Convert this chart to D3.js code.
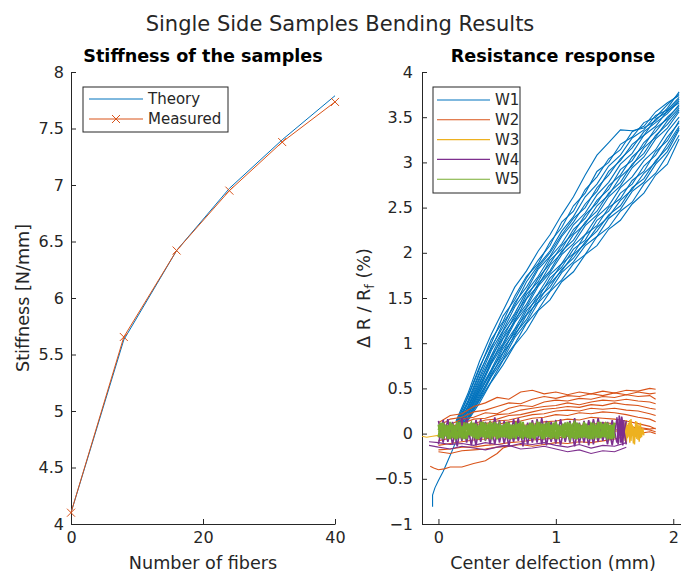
<!DOCTYPE html>
<html lang="en">
<head>
    <meta charset="UTF-8">
    <title>Single Side Samples Bending Results</title>
    <style>
        body { margin: 0; background: #fff; }
        svg { display: block; font-family: "DejaVu Sans", sans-serif; }
    </style>
</head>
<body>
    <div class="box"></div>
    <script src="https://d3js.org/d3.v7.min.js"></script>
    <script>
        const width = 681;
        const height = 577;
        const ink = '#262626';
        const colors = ['#0072BD', '#D95319', '#EDB120', '#7E2F8E', '#77AC30'];

        // ---- left plot: stiffness ----
        const fibers = [0, 8, 16, 24, 32, 40];
        const theory = [4.1, 5.63, 6.42, 6.97, 7.40, 7.79];
        const measured = [4.1, 5.655, 6.42, 6.95, 7.38, 7.735];

        // ---- right plot: resistance response ----
        const w1X = [0.15, 0.25, 0.35, 0.45, 0.55, 0.65, 0.75, 0.85, 0.95, 1.05, 1.15, 1.25, 1.35, 1.45, 1.55, 1.65, 1.75, 1.85, 1.95, 2.05];
        const w1Runs = [
            [0.14, 0.44, 0.80, 1.10, 1.36, 1.62, 1.80, 2.02, 2.20, 2.42, 2.62, 2.86, 3.08, 3.22, 3.36, 3.35, 3.38, 3.46, 3.60, 3.78],
            [0.12, 0.40, 0.72, 1.04, 1.24, 1.52, 1.74, 1.88, 2.12, 2.28, 2.52, 2.66, 2.90, 3.00, 3.20, 3.28, 3.44, 3.50, 3.64, 3.76],
            [0.11, 0.41, 0.74, 1.00, 1.30, 1.48, 1.72, 1.92, 2.08, 2.34, 2.46, 2.70, 2.84, 3.04, 3.14, 3.34, 3.40, 3.56, 3.66, 3.74],
            [0.10, 0.36, 0.68, 0.94, 1.22, 1.42, 1.68, 1.86, 2.02, 2.24, 2.40, 2.62, 2.76, 2.96, 3.08, 3.27, 3.36, 3.52, 3.58, 3.72],
            [0.09, 0.34, 0.66, 0.96, 1.18, 1.45, 1.62, 1.84, 2.00, 2.20, 2.38, 2.50, 2.72, 2.86, 3.04, 3.16, 3.34, 3.44, 3.54, 3.68],
            [0.08, 0.33, 0.62, 0.92, 1.14, 1.40, 1.58, 1.82, 1.96, 2.18, 2.34, 2.54, 2.68, 2.90, 3.02, 3.20, 3.30, 3.48, 3.56, 3.70],
            [0.07, 0.30, 0.60, 0.86, 1.13, 1.33, 1.57, 1.74, 1.95, 2.10, 2.31, 2.44, 2.64, 2.78, 2.98, 3.10, 3.30, 3.40, 3.57, 3.66],
            [0.06, 0.29, 0.57, 0.82, 1.10, 1.28, 1.54, 1.68, 1.92, 2.04, 2.26, 2.38, 2.58, 2.70, 2.92, 3.02, 3.22, 3.34, 3.50, 3.62],
            [0.06, 0.28, 0.55, 0.85, 1.06, 1.31, 1.50, 1.72, 1.88, 2.08, 2.22, 2.42, 2.55, 2.74, 2.86, 3.06, 3.18, 3.38, 3.48, 3.64],
            [0.05, 0.26, 0.53, 0.78, 1.05, 1.24, 1.49, 1.64, 1.86, 2.00, 2.20, 2.32, 2.52, 2.64, 2.84, 2.96, 3.16, 3.28, 3.46, 3.60],
            [0.05, 0.25, 0.51, 0.80, 1.00, 1.26, 1.43, 1.66, 1.80, 2.02, 2.14, 2.34, 2.46, 2.66, 2.78, 2.98, 3.10, 3.30, 3.42, 3.58],
            [0.04, 0.24, 0.49, 0.77, 0.98, 1.23, 1.40, 1.63, 1.78, 1.98, 2.10, 2.30, 2.42, 2.62, 2.74, 2.94, 3.06, 3.26, 3.38, 3.56],
            [0.04, 0.22, 0.48, 0.71, 0.97, 1.16, 1.39, 1.55, 1.76, 1.88, 2.08, 2.20, 2.40, 2.52, 2.72, 2.84, 3.02, 3.14, 3.34, 3.50],
            [0.03, 0.21, 0.46, 0.68, 0.94, 1.12, 1.36, 1.50, 1.72, 1.84, 2.04, 2.14, 2.36, 2.46, 2.66, 2.76, 2.96, 3.08, 3.28, 3.44],
            [0.03, 0.20, 0.44, 0.70, 0.90, 1.15, 1.32, 1.54, 1.68, 1.88, 1.99, 2.20, 2.30, 2.50, 2.60, 2.80, 2.90, 3.12, 3.24, 3.46],
            [0.02, 0.18, 0.42, 0.64, 0.89, 1.08, 1.31, 1.46, 1.66, 1.80, 1.98, 2.10, 2.28, 2.40, 2.58, 2.70, 2.88, 3.00, 3.20, 3.40],
            [0.02, 0.17, 0.40, 0.66, 0.85, 1.10, 1.26, 1.50, 1.62, 1.82, 1.94, 2.12, 2.24, 2.42, 2.52, 2.72, 2.82, 3.02, 3.16, 3.38],
            [0.02, 0.16, 0.38, 0.63, 0.82, 1.06, 1.23, 1.45, 1.58, 1.78, 1.90, 2.08, 2.18, 2.38, 2.48, 2.68, 2.78, 2.98, 3.12, 3.36],
            [0.01, 0.15, 0.37, 0.58, 0.81, 0.99, 1.22, 1.37, 1.57, 1.70, 1.88, 1.98, 2.18, 2.28, 2.46, 2.56, 2.76, 2.88, 3.08, 3.30],
            [0.01, 0.14, 0.34, 0.57, 0.76, 0.98, 1.14, 1.36, 1.48, 1.68, 1.79, 1.98, 2.08, 2.26, 2.36, 2.54, 2.66, 2.86, 2.98, 3.26]
        ];
        const w1TailX = [-0.05, -0.05, -0.03, 0.0, 0.04, 0.08, 0.12, 0.16, 0.19];
        const w1TailY = [-0.81, -0.68, -0.60, -0.52, -0.42, -0.30, -0.18, -0.05, 0.08];

        const w2X = [0, 0.1, 0.2, 0.3, 0.4, 0.5, 0.6, 0.7, 0.8, 0.9, 1.0, 1.1, 1.2, 1.3, 1.4, 1.5, 1.6, 1.7, 1.8, 1.85];
        const w2Runs = [
            [0.12, 0.20, 0.22, 0.30, 0.34, 0.40, 0.38, 0.46, 0.48, 0.44, 0.46, 0.43, 0.46, 0.44, 0.47, 0.45, 0.48, 0.47, 0.50, 0.49],
            [0.08, 0.16, 0.18, 0.24, 0.26, 0.30, 0.34, 0.33, 0.38, 0.41, 0.39, 0.42, 0.41, 0.44, 0.42, 0.45, 0.43, 0.46, 0.44, 0.45],
            [0.06, 0.10, 0.16, 0.18, 0.23, 0.22, 0.28, 0.31, 0.30, 0.35, 0.37, 0.36, 0.39, 0.38, 0.41, 0.40, 0.43, 0.41, 0.42, 0.38],
            [0.04, 0.08, 0.11, 0.16, 0.17, 0.21, 0.22, 0.26, 0.28, 0.30, 0.31, 0.34, 0.32, 0.35, 0.37, 0.36, 0.38, 0.36, 0.35, 0.33],
            [0.02, 0.05, 0.09, 0.11, 0.15, 0.16, 0.20, 0.21, 0.24, 0.27, 0.28, 0.30, 0.29, 0.32, 0.31, 0.34, 0.32, 0.31, 0.28, 0.27],
            [0.00, 0.03, 0.06, 0.10, 0.11, 0.14, 0.15, 0.18, 0.21, 0.22, 0.25, 0.26, 0.25, 0.28, 0.27, 0.28, 0.26, 0.25, 0.22, 0.20],
            [-0.04, 0.00, 0.04, 0.05, 0.09, 0.10, 0.13, 0.14, 0.17, 0.18, 0.21, 0.20, 0.23, 0.22, 0.24, 0.23, 0.21, 0.18, 0.16, 0.13],
            [-0.08, -0.05, -0.02, 0.01, 0.02, 0.05, 0.06, 0.09, 0.10, 0.13, 0.14, 0.16, 0.15, 0.18, 0.17, 0.16, 0.14, 0.11, 0.08, 0.05],
            [-0.13, -0.11, -0.09, -0.07, -0.06, -0.03, -0.02, 0.01, 0.02, 0.05, 0.06, 0.08, 0.09, 0.10, 0.12, 0.11, 0.09, 0.06, 0.04, 0.02],
            [-0.18, -0.17, -0.15, -0.15, -0.13, -0.12, -0.10, -0.09, -0.07, -0.06, -0.05, -0.03, -0.02, 0.00, 0.02, 0.04, 0.05, 0.07, 0.05, 0.06],
            [-0.20, -0.22, -0.19, -0.18, -0.17, -0.15, -0.14, -0.12, -0.14, -0.12, -0.10, -0.11, -0.09, -0.10, -0.08, -0.06, -0.03, 0.00, 0.02, 0.00]
        ];
        const w2LowX = [-0.07, -0.04, 0.0, 0.05, 0.1, 0.2, 0.3, 0.4, 0.5, 0.55, 0.6];
        const w2LowY = [-0.36, -0.38, -0.40, -0.39, -0.37, -0.37, -0.33, -0.30, -0.22, -0.16, -0.14];

        const w3X = [-0.14, -0.1, -0.05, 0.0, 0.3, 0.6, 0.9, 1.2, 1.5, 1.58];
        const w3Y = [-0.03, -0.04, -0.03, -0.02, 0.0, 0.02, 0.01, 0.03, 0.02, 0.05];
        const w3EndX = [1.58, 1.59, 1.6, 1.61, 1.62, 1.63, 1.64, 1.65, 1.66, 1.67, 1.68, 1.69, 1.7, 1.71, 1.72, 1.73, 1.74, 1.75];
        const w3EndRuns = [
            [0.10, -0.08, 0.15, -0.05, 0.12, -0.10, 0.16, -0.02, 0.08, -0.12, 0.14, -0.06, 0.10, -0.09, 0.12, -0.04, 0.06, -0.02],
            [-0.05, 0.12, -0.10, 0.08, -0.03, 0.15, -0.08, 0.10, -0.11, 0.06, -0.04, 0.13, -0.07, 0.09, -0.05, 0.05, 0.00, 0.02]
        ];

        const w4X = [0, 0.04, 0.08, 0.12, 0.16, 0.2, 0.24, 0.28, 0.32, 0.36, 0.4, 0.44, 0.48, 0.52, 0.56, 0.6, 0.64, 0.68, 0.72, 0.76, 0.8,
            0.84, 0.88, 0.92, 0.96, 1.0, 1.04, 1.08, 1.12, 1.16, 1.2, 1.24, 1.28, 1.32, 1.36, 1.4, 1.44, 1.48, 1.52, 1.56, 1.6];
        const w4Runs = [
            [0.14, -0.10, 0.16, -0.12, 0.12, -0.08, 0.17, -0.13, 0.15, -0.09, 0.13, -0.12, 0.18, -0.10, 0.14, -0.14, 0.16, -0.08, 0.12, -0.12, 0.15,
                -0.10, 0.17, -0.13, 0.13, -0.11, 0.16, -0.09, 0.14, -0.14, 0.12, -0.10, 0.15, -0.12, 0.17, -0.08, 0.13, -0.13, 0.16, -0.10, 0.14],
            [-0.12, 0.15, -0.09, 0.13, -0.14, 0.17, -0.10, 0.12, -0.13, 0.16, -0.08, 0.14, -0.12, 0.15, -0.11, 0.13, -0.09, 0.17, -0.14, 0.12, -0.10,
                0.16, -0.12, 0.14, -0.09, 0.15, -0.13, 0.12, -0.10, 0.17, -0.11, 0.14, -0.13, 0.16, -0.09, 0.13, -0.12, 0.15, -0.10, 0.18, -0.12]
        ];
        const w4LowX = [-0.08, 0.0, 0.1, 0.2, 0.3, 0.4, 0.5, 0.6, 0.7, 0.8, 0.9, 1.0, 1.1, 1.2, 1.3, 1.4, 1.5, 1.6];
        const w4LowRuns = [
            [-0.13, -0.15, -0.17, -0.14, -0.16, -0.18, -0.15, -0.13, -0.17, -0.16, -0.14, -0.17, -0.20, -0.18, -0.22, -0.19, -0.20, -0.15],
            [-0.09, -0.10, -0.12, -0.11, -0.13, -0.10, -0.12, -0.14, -0.11, -0.12, -0.10, -0.13, -0.15, -0.12, -0.16, -0.13, -0.14, -0.10]
        ];
        const w4EdgeX = [1.52, 1.53, 1.54, 1.55, 1.56, 1.57, 1.58, 1.57, 1.56];
        const w4EdgeY = [0.18, -0.12, 0.20, -0.10, 0.17, -0.13, 0.15, -0.10, 0.19];

        const w5X = [0, 0.02, 0.04, 0.06, 0.08, 0.1, 0.12, 0.14, 0.16, 0.18, 0.2, 0.22, 0.24, 0.26, 0.28, 0.3, 0.32, 0.34, 0.36, 0.38,
            0.4, 0.42, 0.44, 0.46, 0.48, 0.5, 0.52, 0.54, 0.56, 0.58, 0.6, 0.62, 0.64, 0.66, 0.68, 0.7, 0.72, 0.74, 0.76, 0.78,
            0.8, 0.82, 0.84, 0.86, 0.88, 0.9, 0.92, 0.94, 0.96, 0.98, 1.0, 1.02, 1.04, 1.06, 1.08, 1.1, 1.12, 1.14, 1.16, 1.18,
            1.2, 1.22, 1.24, 1.26, 1.28, 1.3, 1.32, 1.34, 1.36, 1.38, 1.4, 1.42, 1.44, 1.46, 1.48, 1.5];
        const w5Runs = [
            [0.10, -0.05, 0.12, -0.03, 0.09, -0.06, 0.11, -0.04, 0.13, -0.05, 0.08, -0.06, 0.12, -0.02, 0.10, -0.05, 0.11, -0.06, 0.09, -0.04,
                0.12, -0.05, 0.10, -0.03, 0.13, -0.06, 0.09, -0.04, 0.11, -0.05, 0.12, -0.06, 0.08, -0.03, 0.11, -0.05, 0.13, -0.04, 0.10, -0.06,
                0.12, -0.05, 0.09, -0.03, 0.11, -0.06, 0.12, -0.04, 0.10, -0.05, 0.13, -0.06, 0.09, -0.04, 0.11, -0.03, 0.12, -0.05, 0.10, -0.06,
                0.11, -0.04, 0.13, -0.05, 0.09, -0.06, 0.12, -0.03, 0.10, -0.05, 0.11, -0.04, 0.12, -0.06, 0.10, -0.05],
            [-0.04, 0.11, -0.06, 0.10, -0.03, 0.12, -0.05, 0.09, -0.06, 0.13, -0.04, 0.10, -0.05, 0.11, -0.03, 0.12, -0.06, 0.09, -0.04, 0.13,
                -0.05, 0.10, -0.06, 0.12, -0.03, 0.11, -0.05, 0.09, -0.04, 0.12, -0.06, 0.10, -0.05, 0.13, -0.03, 0.11, -0.06, 0.09, -0.04, 0.12,
                -0.05, 0.10, -0.03, 0.13, -0.06, 0.11, -0.04, 0.09, -0.05, 0.12, -0.06, 0.10, -0.03, 0.11, -0.05, 0.13, -0.04, 0.10, -0.06, 0.12,
                -0.05, 0.09, -0.04, 0.11, -0.03, 0.12, -0.06, 0.10, -0.05, 0.13, -0.04, 0.11, -0.06, 0.10, -0.05, 0.12],
            [0.04, 0.12, -0.02, 0.08, -0.06, 0.13, 0.00, -0.05, 0.11, 0.03, -0.04, 0.12, -0.06, 0.07, 0.12, -0.03, 0.05, -0.06, 0.13, 0.02,
                -0.05, 0.09, 0.12, -0.04, 0.03, -0.06, 0.11, 0.06, -0.03, 0.13, -0.05, 0.02, 0.10, -0.06, 0.08, 0.12, -0.02, 0.04, -0.05, 0.11,
                0.01, -0.06, 0.12, 0.07, -0.04, 0.10, -0.02, 0.13, -0.06, 0.05, 0.11, -0.03, 0.08, -0.05, 0.12, 0.00, -0.06, 0.09, 0.13, -0.04,
                0.06, -0.05, 0.12, 0.02, -0.06, 0.10, 0.04, -0.03, 0.13, -0.05, 0.07, 0.11, -0.04, 0.03, -0.06, 0.12]
        ];

        const seriesNames = ['W1', 'W2', 'W3', 'W4', 'W5'];

        const svg = d3.select('.box')
            .append('svg')
            .attr('width', width)
            .attr('height', height);

        // scales
        const xL = d3.scaleLinear().domain([0, 40]).range([71, 335]);
        const yL = d3.scaleLinear().domain([4, 8]).range([524, 72]);
        const xR = d3.scaleLinear().domain([-0.14, 2.1]).range([422, 685]);
        const yR = d3.scaleLinear().domain([-1, 4]).range([524, 72]);

        function styleAxis(g) {
            g.attr('font-family', '"DejaVu Sans", sans-serif').attr('font-size', 16);
            g.select('.domain').attr('stroke', ink);
            g.selectAll('.tick line').attr('stroke', ink);
            g.selectAll('.tick text').attr('fill', ink);
        }

        // left axes
        svg.append('g').attr('transform', 'translate(0,524)')
            .call(d3.axisBottom(xL).tickValues([0, 20, 40]).tickSizeInner(-5).tickSizeOuter(0).tickPadding(8))
            .call(styleAxis);
        svg.append('g').attr('transform', 'translate(71,0)')
            .call(d3.axisLeft(yL).tickValues(d3.range(4, 8.01, 0.5)).tickFormat(d3.format('~g'))
                .tickSizeInner(-5).tickSizeOuter(0).tickPadding(7))
            .call(styleAxis);

        // right axes
        svg.append('g').attr('transform', 'translate(0,524)')
            .call(d3.axisBottom(xR).tickValues([0, 1, 2]).tickFormat(d3.format('~g'))
                .tickSizeInner(-5).tickSizeOuter(0).tickPadding(8))
            .call(styleAxis);
        svg.append('g').attr('transform', 'translate(422,0)')
            .call(d3.axisLeft(yR).tickValues(d3.range(-1, 4.01, 0.5)).tickFormat(d3.format('~g'))
                .tickSizeInner(-5).tickSizeOuter(0).tickPadding(9))
            .call(styleAxis);

        // left lines
        const lineL = d3.line().x(d => xL(d[0])).y(d => yL(d[1]));
        svg.append('path').datum(d3.zip(fibers, theory))
            .attr('d', lineL).attr('fill', 'none').attr('stroke', colors[0]).attr('stroke-width', 1);
        svg.append('path').datum(d3.zip(fibers, measured))
            .attr('d', lineL).attr('fill', 'none').attr('stroke', colors[1]).attr('stroke-width', 1);
        const cross = 'M-4,-4L4,4M-4,4L4,-4';
        svg.append('g').selectAll('path').data(d3.zip(fibers, measured)).enter().append('path')
            .attr('transform', d => `translate(${xL(d[0])},${yL(d[1])})`)
            .attr('d', cross).attr('stroke', colors[1]).attr('stroke-width', 1);

        // right lines
        const lineR = d3.line().x(d => xR(d[0])).y(d => yR(d[1]));
        const plotR = svg.append('g');
        function drawRuns(xs, runs, color, w) {
            plotR.append('g').selectAll('path').data(runs).enter().append('path')
                .attr('d', ys => lineR(d3.zip(xs, ys)))
                .attr('fill', 'none').attr('stroke', color).attr('stroke-width', w || 1.1);
        }
        drawRuns(w1X, w1Runs, colors[0]);
        drawRuns(w1TailX, [w1TailY], colors[0]);
        drawRuns(w2X, w2Runs, colors[1]);
        drawRuns(w2LowX, [w2LowY], colors[1]);
        drawRuns(w3X, [w3Y], colors[2]);
        drawRuns(w3EndX, w3EndRuns, colors[2], 1.4);
        drawRuns(w4LowX, w4LowRuns, colors[3]);
        drawRuns(w4X, w4Runs, colors[3], 1.6);
        drawRuns(w4EdgeX, [w4EdgeY], colors[3], 1.6);
        drawRuns(w5X, w5Runs, colors[4], 2);

        // legends
        const legL = svg.append('g');
        legL.append('rect').attr('x', 83).attr('y', 87).attr('width', 145).attr('height', 45)
            .attr('fill', '#fff').attr('stroke', ink).attr('stroke-width', 1);
        ['Theory', 'Measured'].forEach((name, i) => {
            const y = 99 + i * 20;
            legL.append('line').attr('x1', 89).attr('x2', 143).attr('y1', y).attr('y2', y)
                .attr('stroke', colors[i]).attr('stroke-width', 1);
            if (i === 1) {
                legL.append('path').attr('transform', `translate(116,${y})`).attr('d', cross)
                    .attr('stroke', colors[1]).attr('stroke-width', 1);
            }
            legL.append('text').attr('x', 148).attr('y', y).attr('dy', '0.35em')
                .attr('font-size', 15).attr('fill', ink).text(name);
        });

        const legR = svg.append('g');
        legR.append('rect').attr('x', 433).attr('y', 87).attr('width', 87).attr('height', 106)
            .attr('fill', '#fff').attr('stroke', ink).attr('stroke-width', 1);
        seriesNames.forEach((name, i) => {
            const y = 100 + i * 19.8;
            legR.append('line').attr('x1', 437).attr('x2', 490).attr('y1', y).attr('y2', y)
                .attr('stroke', colors[i]).attr('stroke-width', 1.1);
            legR.append('text').attr('x', 495).attr('y', y).attr('dy', '0.35em')
                .attr('font-size', 15).attr('fill', ink).text(name);
        });

        // titles and labels
        svg.append('text').attr('x', 340).attr('y', 31).attr('text-anchor', 'middle')
            .attr('font-size', 21).attr('fill', ink).text('Single Side Samples Bending Results');
        svg.append('text').attr('x', 203).attr('y', 62).attr('text-anchor', 'middle')
            .attr('font-size', 17.6).attr('font-weight', 'bold').attr('fill', '#000').text('Stiffness of the samples');
        svg.append('text').attr('x', 553).attr('y', 62).attr('text-anchor', 'middle')
            .attr('font-size', 17.6).attr('font-weight', 'bold').attr('fill', '#000').text('Resistance response');

        svg.append('text').attr('x', 203).attr('y', 569).attr('text-anchor', 'middle')
            .attr('font-size', 17.6).attr('fill', ink).text('Number of fibers');
        svg.append('text').attr('x', 553).attr('y', 569).attr('text-anchor', 'middle')
            .attr('font-size', 17.6).attr('fill', ink).text('Center delfection (mm)');

        svg.append('text').attr('transform', 'translate(29,298) rotate(-90)').attr('text-anchor', 'middle')
            .attr('font-size', 17.6).attr('fill', ink).text('Stiffness [N/mm]');
        const yLabR = svg.append('text').attr('transform', 'translate(370,298) rotate(-90)').attr('text-anchor', 'middle')
            .attr('font-size', 17.6).attr('fill', ink);
        yLabR.append('tspan').text('Δ R / R');
        yLabR.append('tspan').attr('font-size', 13).attr('dy', 4).text('f');
        yLabR.append('tspan').attr('dy', -4).text(' (%)');
    </script>
</body>
</html>
